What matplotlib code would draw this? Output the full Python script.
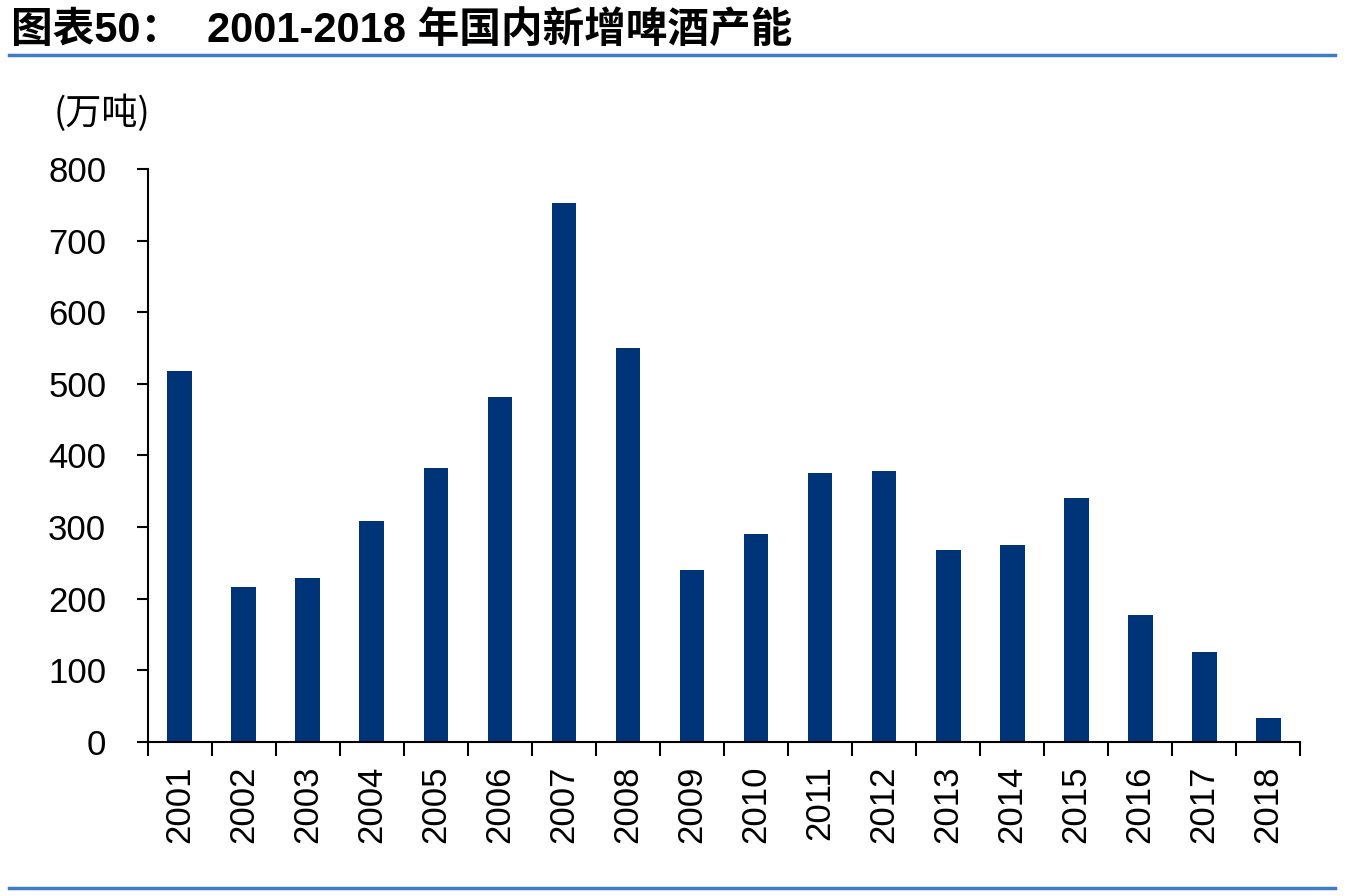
import matplotlib.pyplot as plt
import matplotlib.lines as mlines
import numpy as np

plt.rcParams['font.family'] = ['Liberation Sans', 'Noto Sans CJK SC', 'DejaVu Sans']

years = [str(y) for y in range(2001, 2019)]
capacity = [518, 216, 229, 309, 383, 481, 752, 550, 240, 290,
            376, 379, 268, 275, 341, 177, 125, 33]

title = "图表50：  2001-2018 年国内新增啤酒产能"
unit = "(万吨)"
bar_color = "#003478"
line_color = "#3F7CC4"

fig = plt.figure(figsize=(13.5, 8.96), dpi=100)
ax = fig.add_axes([0.1096, 0.1719, 0.8534, 0.6395])

x = np.arange(len(years))
ax.bar(x, capacity, width=0.39, color=bar_color)

ax.set_xlim(-0.5, len(years) - 0.5)
ax.set_ylim(0, 800)
ax.set_yticks(range(0, 801, 100))

# major ticks on category boundaries, labels at the centres
ax.set_xticks(np.arange(-0.5, len(years), 1.0))
ax.set_xticklabels([])
ax.set_xticks(x, minor=True)
ax.set_xticklabels(years, minor=True, rotation=90, fontsize=25)
ax.tick_params(axis='x', which='major', direction='out', length=10, width=1.5)
ax.tick_params(axis='x', which='minor', length=0, pad=17)
ax.tick_params(axis='y', direction='out', length=8, width=1.5, labelsize=25, pad=22)

for s in ['top', 'right']:
    ax.spines[s].set_visible(False)
for s in ['left', 'bottom']:
    ax.spines[s].set_linewidth(1.5)

fig.text(0.008, 0.965, "图表50：", fontsize=30, fontweight='bold', va='center', ha='left')
fig.text(0.153, 0.965, "2001-2018 年国内新增啤酒产能", fontsize=30, fontweight='bold',
         va='center', ha='left')
fig.text(0.04, 0.874, unit, fontsize=26, va='center', ha='left',
         family=['Noto Sans CJK SC', 'DejaVu Sans'])

fig.add_artist(mlines.Line2D([0.007, 0.989], [0.939, 0.939], color=line_color, lw=2.5))
fig.add_artist(mlines.Line2D([0.007, 0.989], [0.009, 0.009], color=line_color, lw=2.5))

fig.savefig("out.png", dpi=100)
